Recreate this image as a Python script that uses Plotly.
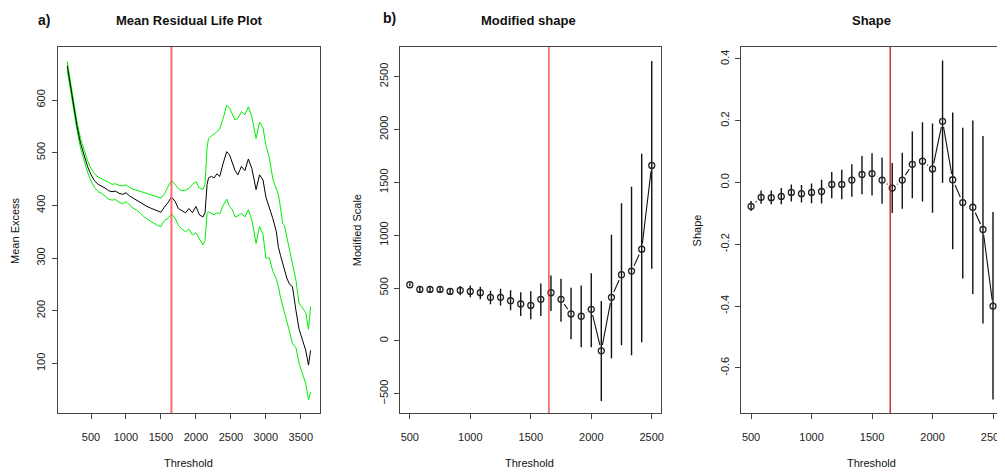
import plotly.graph_objects as go

# panel a: mean residual life
mrl_thr = [160, 200, 250, 300, 350, 400, 450, 500, 550, 600, 650, 700, 750, 800, 850, 900, 950, 1000,
           1050, 1100, 1150, 1200, 1250, 1300, 1350, 1400, 1450, 1500, 1550, 1600, 1650, 1700, 1750,
           1800, 1850, 1900, 1950, 2000, 2050, 2100, 2130, 2160, 2180, 2220, 2260, 2300, 2340, 2390,
           2440, 2480, 2520, 2560, 2600, 2650, 2700, 2750, 2800, 2860, 2910, 2960, 3000, 3050, 3100,
           3150, 3180, 3210, 3240, 3265, 3300, 3340, 3380, 3430, 3475, 3525, 3570, 3610, 3640]
mrl_mean = [665, 630, 585, 550, 518, 494, 474, 458, 447, 440, 437, 433, 428, 426, 427, 423, 421, 424,
            418, 414, 410, 405, 401, 398, 395, 392, 389, 387, 397, 405, 416, 408, 394,
            390, 386, 394, 386, 398, 382, 378, 386, 440, 452, 455, 452, 460, 455, 480,
            502, 496, 482, 466, 458, 474, 466, 488, 470, 430, 458, 448, 416, 397, 375,
            350, 320, 305, 290, 281, 262, 250, 246, 201, 165, 144, 125, 97, 125]
mrl_upper = [673, 638, 593, 558, 527, 504, 485, 470, 460, 454, 451, 448, 444, 440, 441, 438, 437, 439,
             434, 431, 429, 427, 425, 423, 421, 418, 416, 414, 422, 435, 448, 440, 432,
             428, 429, 432, 440, 445, 433, 430, 440, 510, 527, 532, 535, 540, 545, 565,
             590, 585, 575, 562, 565, 578, 572, 587, 568, 527, 558, 547, 515, 490, 450,
             430, 420, 395, 366, 362, 340, 320, 292, 258, 214, 205, 197, 165, 208]
mrl_lower = [657, 622, 577, 542, 509, 484, 463, 446, 434, 426, 423, 418, 412, 410, 411, 406, 403, 407,
             400, 395, 391, 386, 379, 374, 370, 366, 362, 360, 372, 375, 384, 376, 362,
             355, 350, 355, 344, 348, 335, 325, 333, 385, 388, 385, 382, 386, 384, 400,
             412, 398, 392, 378, 380, 385, 378, 392, 372, 328, 360, 345, 300, 300, 275,
             260, 246, 225, 208, 200, 180, 160, 138, 130, 100, 80, 62, 31, 46]

# panels b and c: fitted parameters over a threshold range
thr = [500, 583, 667, 750, 833, 917, 1000, 1083, 1167, 1250, 1333, 1417, 1500, 1583, 1667, 1750,
       1833, 1917, 2000, 2083, 2167, 2250, 2333, 2417, 2500]
mod_scale = [531, 487, 487, 487, 468, 478, 468, 456, 412, 412, 380, 349, 336, 393, 456, 393,
             255, 233, 299, -94, 412, 626, 660, 868, 1660]
mod_lo = [516, 462, 462, 462, 437, 431, 412, 393, 346, 336, 289, 236, 204, 236, 283, 182,
          16, -60, -60, -569, -164, -41, -135, -13, 683]
mod_hi = [546, 512, 512, 512, 500, 519, 525, 512, 475, 494, 478, 459, 469, 544, 619, 588,
          503, 525, 641, 377, 1003, 1302, 1457, 1771, 2648]
shape = [-0.077, -0.048, -0.049, -0.045, -0.032, -0.036, -0.032, -0.029, -0.006, -0.006, 0.008, 0.026,
         0.029, 0.008, -0.018, 0.008, 0.059, 0.069, 0.044, 0.198, 0.009, -0.065, -0.080, -0.152, -0.400]
shape_lo = [-0.092, -0.069, -0.070, -0.070, -0.061, -0.065, -0.067, -0.068, -0.051, -0.054, -0.046, -0.038,
            -0.042, -0.069, -0.099, -0.085, -0.051, -0.061, -0.098, -0.001, -0.216, -0.311, -0.361, -0.456, -0.702]
shape_hi = [-0.060, -0.026, -0.026, -0.018, -0.006, -0.008, -0.003, 0.009, 0.034, 0.041, 0.059, 0.086,
            0.095, 0.081, 0.063, 0.096, 0.165, 0.195, 0.191, 0.395, 0.227, 0.177, 0.201, 0.151, -0.095]

chosen_thr = 1650

FONT = "Liberation Sans, Arial, sans-serif"

# the page body keeps its default 8px margin, so the figure is 8px smaller than the window
# and window pixel positions are shifted by 8
W, H, OFF = 997, 465, 8


def fx(px):
    return (px - OFF) / W


def fy(py):
    return 1 - (py - OFF) / H


fig = go.Figure()

# a) mean residual life
for vals, col in [(mrl_upper, "#00ee00"), (mrl_lower, "#00ee00"), (mrl_mean, "#000000")]:
    fig.add_trace(go.Scatter(x=mrl_thr, y=vals, mode="lines", line=dict(color=col, width=1),
                             xaxis="x", yaxis="y", showlegend=False, hoverinfo="skip"))


def param_panel(xa, ya, vals, lo, hi):
    # R style type="b": line with gaps around each point
    fig.add_trace(go.Scatter(x=thr, y=vals, mode="lines", line=dict(color="#111", width=1.1),
                             xaxis=xa, yaxis=ya, showlegend=False, hoverinfo="skip"))
    fig.add_trace(go.Scatter(x=thr, y=vals, mode="markers", marker=dict(color="white", size=12),
                             xaxis=xa, yaxis=ya, showlegend=False, hoverinfo="skip"))
    fig.add_trace(go.Scatter(
        x=thr, y=vals, mode="markers",
        marker=dict(symbol="circle-open", size=6, color="#222", line=dict(width=1.3)),
        error_y=dict(type="data", symmetric=False,
                     array=[h - v for h, v in zip(hi, vals)],
                     arrayminus=[v - l for v, l in zip(vals, lo)],
                     width=0, thickness=1.4, color="#111"),
        xaxis=xa, yaxis=ya, showlegend=False, hoverinfo="skip"))


param_panel("x2", "y2", mod_scale, mod_lo, mod_hi)
param_panel("x3", "y3", shape, shape_lo, shape_hi)

ax_common = dict(showline=True, linecolor="#444", linewidth=1, ticks="outside", ticklen=5,
                 tickcolor="#444", showgrid=False, zeroline=False, ticklabeloverflow="allow",
                 tickfont=dict(family=FONT, size=11, color="#222"))
ydom = [fy(413), fy(47)]

fig.update_layout(
    width=W, height=H, autosize=False,
    margin=dict(l=0, r=0, t=0, b=0),
    paper_bgcolor="white", plot_bgcolor="white",
    xaxis=dict(ax_common, domain=[fx(58), fx(323)], range=[22, 3781], mirror=True,
               tickvals=[500, 1000, 1500, 2000, 2500, 3000, 3500], ticklabelstandoff=9, anchor="y"),
    yaxis=dict(ax_common, domain=ydom, range=[6, 700.6], mirror=True,
               tickvals=[100, 200, 300, 400, 500, 600], tickangle=-90, ticklabelstandoff=2, anchor="x"),
    xaxis2=dict(ax_common, domain=[fx(403.3), fx(666.7)], range=[420, 2580], mirror=True,
                tickvals=[500, 1000, 1500, 2000, 2500], ticklabelstandoff=9, anchor="y2"),
    yaxis2=dict(ax_common, domain=ydom, range=[-682, 2780], mirror=True,
                tickvals=[-500, 0, 500, 1000, 1500, 2000, 2500], tickangle=-90, ticklabelstandoff=2,
                anchor="x2"),
    xaxis3=dict(ax_common, domain=[fx(747.3), 1.0], range=[420, 2533], mirror=True,
                tickvals=[500, 1000, 1500, 2000, 2500], ticklabelstandoff=9, anchor="y3"),
    yaxis3=dict(ax_common, domain=ydom, range=[-0.746, 0.4387], mirror=False,
                tickvals=[-0.6, -0.4, -0.2, 0.0, 0.2, 0.4], ticktext=["-0.6", "-0.4", "-0.2", "0.0", "0.2", "0.4"],
                tickangle=-90, ticklabelstandoff=2, anchor="x3"),
)

# chosen threshold lines
for xr, yr, col, w in [("x", "y domain", "#ff6b6b", 2), ("x2", "y2 domain", "#e83030", 1.2),
                       ("x3", "y3 domain", "#c40000", 1.2)]:
    fig.add_shape(type="line", xref=xr, yref=yr, x0=chosen_thr, x1=chosen_thr, y0=0, y1=1,
                  line=dict(color=col, width=w), layer="above")

# titles and labels
texts = [
    ("a)", 44, 20, 14, True, 0),
    ("Mean Residual Life Plot", 191, 21, 13, True, 0),
    ("b)", 393, 18, 14, True, 0),
    ("Modified shape", 533, 21, 13, True, 0),
    ("Shape", 878, 21, 13, True, 0),
    ("Threshold", 190, 463, 11, False, 0),
    ("Threshold", 534, 463, 11, False, 0),
    ("Threshold", 878, 463, 11, False, 0),
    ("Mean Excess", 15, 230, 11, False, -90),
    ("Modified Scale", 360, 230, 11, False, -90),
    ("Shape", 703, 230, 11, False, -90),
]
for txt, px, py, sz, bold, ang in texts:
    fig.add_annotation(text="<b>%s</b>" % txt if bold else txt, x=fx(px), y=fy(py),
                       xref="paper", yref="paper", xanchor="center", yanchor="middle",
                       showarrow=False, textangle=ang,
                       font=dict(family=FONT, size=sz, color="#111"))

fig.write_html("out.html", config={"displayModeBar": False})
